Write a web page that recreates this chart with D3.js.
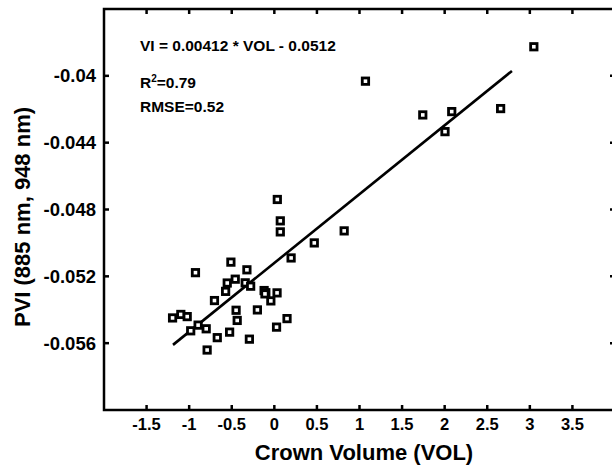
<!DOCTYPE html>
<html lang="en">
<head>
    <meta charset="UTF-8">
    <title>PVI vs Crown Volume</title>
    <script src="https://d3js.org/d3.v7.min.js"></script>
    <style>
        body {
            margin: 0;
            background-color: white;
        }

        svg text {
            font-family: "Liberation Sans", Arial, sans-serif;
            font-weight: bold;
            fill: #000;
        }

        .frame {
            fill: none;
            stroke: #000;
            stroke-width: 2.5;
        }

        .tick-mark {
            stroke: #000;
            stroke-width: 2.5;
        }

        .point {
            fill: white;
            stroke: #000;
            stroke-width: 2.8;
        }

        .fit {
            stroke: #000;
            stroke-width: 2.6;
            fill: none;
        }
    </style>
</head>
<body>
    <div id="chart"></div>

    <script>
        // crown volume (x) and PVI (y)
        const volume = [
            -1.195, -1.098, -1.023, -0.926, -0.982, -0.895, -0.800, -0.789,
            -0.703, -0.670, -0.572, -0.553, -0.525, -0.510, -0.459, -0.449,
            -0.436, -0.322, -0.342, -0.278, -0.293, -0.199, -0.120, -0.100,
            -0.110, -0.041, 0.032, 0.026, 0.149, 0.035, 0.070, 0.070, 0.197,
            0.469, 0.820, 1.070, 1.743, 2.083, 2.004, 2.657, 3.047
        ];
        const pvi = [
            -0.05449, -0.05428, -0.05441, -0.05178, -0.05526, -0.05492, -0.05514, -0.05641,
            -0.05345, -0.05567, -0.05290, -0.05240, -0.05534, -0.05115, -0.05217, -0.05403,
            -0.05464, -0.05161, -0.05239, -0.05259, -0.05576, -0.05401, -0.05285, -0.05298,
            -0.05305, -0.05347, -0.05299, -0.05504, -0.05453, -0.04740, -0.04868, -0.04934, -0.05090,
            -0.05000, -0.04928, -0.04032, -0.04234, -0.04214, -0.04334, -0.04196, -0.03826
        ];

        // regression line VI = slope * VOL + intercept, drawn over this VOL range
        const slope = 0.00412;
        const intercept = -0.0512;
        const fitRange = [-1.19, 2.79];

        const xTicks = [-1.5, -1, -0.5, 0, 0.5, 1, 1.5, 2, 2.5, 3, 3.5];
        const yTicks = [-0.04, -0.044, -0.048, -0.052, -0.056];
        const xTickLabels = ["-1.5", "-1", "-0.5", "0", "0.5", "1", "1.5", "2", "2.5", "3", "3.5"];
        const yTickLabels = ["-0.04", "-0.044", "-0.048", "-0.052", "-0.056"];

        const width = 612;
        const height = 465;

        const x = d3.scaleLinear().domain([-2, 4]).range([104, 615]);
        const y = d3.scaleLinear().domain([-0.06, -0.036]).range([410, 9]);

        const svg = d3.select("#chart")
            .append("svg")
            .attr("width", width)
            .attr("height", height);

        // frame (right edge runs off the picture)
        svg.append("rect")
            .attr("class", "frame")
            .attr("x", x(-2))
            .attr("y", y(-0.036))
            .attr("width", x(4) - x(-2))
            .attr("height", y(-0.06) - y(-0.036));

        // inward ticks on all four sides
        const tickLen = 5;
        const ticks = svg.append("g");
        xTicks.forEach(t => {
            ticks.append("line").attr("class", "tick-mark")
                .attr("x1", x(t)).attr("x2", x(t))
                .attr("y1", y(-0.06)).attr("y2", y(-0.06) - tickLen);
            ticks.append("line").attr("class", "tick-mark")
                .attr("x1", x(t)).attr("x2", x(t))
                .attr("y1", y(-0.036)).attr("y2", y(-0.036) + tickLen);
        });
        yTicks.forEach(t => {
            ticks.append("line").attr("class", "tick-mark")
                .attr("x1", x(-2)).attr("x2", x(-2) + tickLen)
                .attr("y1", y(t)).attr("y2", y(t));
            ticks.append("line").attr("class", "tick-mark")
                .attr("x1", x(4)).attr("x2", x(4) - tickLen)
                .attr("y1", y(t)).attr("y2", y(t));
        });

        // tick labels
        svg.append("g")
            .selectAll("text")
            .data(xTicks)
            .join("text")
            .attr("x", d => x(d))
            .attr("y", 430)
            .attr("text-anchor", "middle")
            .style("font-size", "16.5px")
            .text((d, i) => xTickLabels[i]);

        svg.append("g")
            .selectAll("text")
            .data(yTicks)
            .join("text")
            .attr("x", 96)
            .attr("y", d => y(d))
            .attr("dy", "0.36em")
            .attr("text-anchor", "end")
            .style("font-size", "18.5px")
            .text((d, i) => yTickLabels[i]);

        // axis titles
        svg.append("text")
            .attr("x", 364)
            .attr("y", 460)
            .attr("text-anchor", "middle")
            .style("font-size", "22px")
            .text("Crown Volume (VOL)");

        svg.append("text")
            .attr("transform", "translate(30,217) rotate(-90)")
            .attr("text-anchor", "middle")
            .style("font-size", "22px")
            .text("PVI (885 nm, 948 nm)");

        // fitted line
        svg.append("line")
            .attr("class", "fit")
            .attr("x1", x(fitRange[0]))
            .attr("y1", y(slope * fitRange[0] + intercept))
            .attr("x2", x(fitRange[1]))
            .attr("y2", y(slope * fitRange[1] + intercept));

        // points as open squares
        const s = 6.4;
        svg.append("g")
            .selectAll("rect")
            .data(volume)
            .join("rect")
            .attr("class", "point")
            .attr("x", (d, i) => x(d) - s / 2)
            .attr("y", (d, i) => y(pvi[i]) - s / 2)
            .attr("width", s)
            .attr("height", s);

        // annotations
        const note = svg.append("g").style("font-size", "15.5px");
        note.append("text")
            .attr("x", 140)
            .attr("y", 51)
            .text("VI = 0.00412 * VOL - 0.0512");

        const r2 = note.append("text")
            .attr("x", 140)
            .attr("y", 88);
        r2.append("tspan").text("R");
        r2.append("tspan").attr("dy", -6).style("font-size", "10px").text("2");
        r2.append("tspan").attr("dy", 6).text("=0.79");

        note.append("text")
            .attr("x", 140)
            .attr("y", 112)
            .text("RMSE=0.52");
    </script>
</body>
</html>
